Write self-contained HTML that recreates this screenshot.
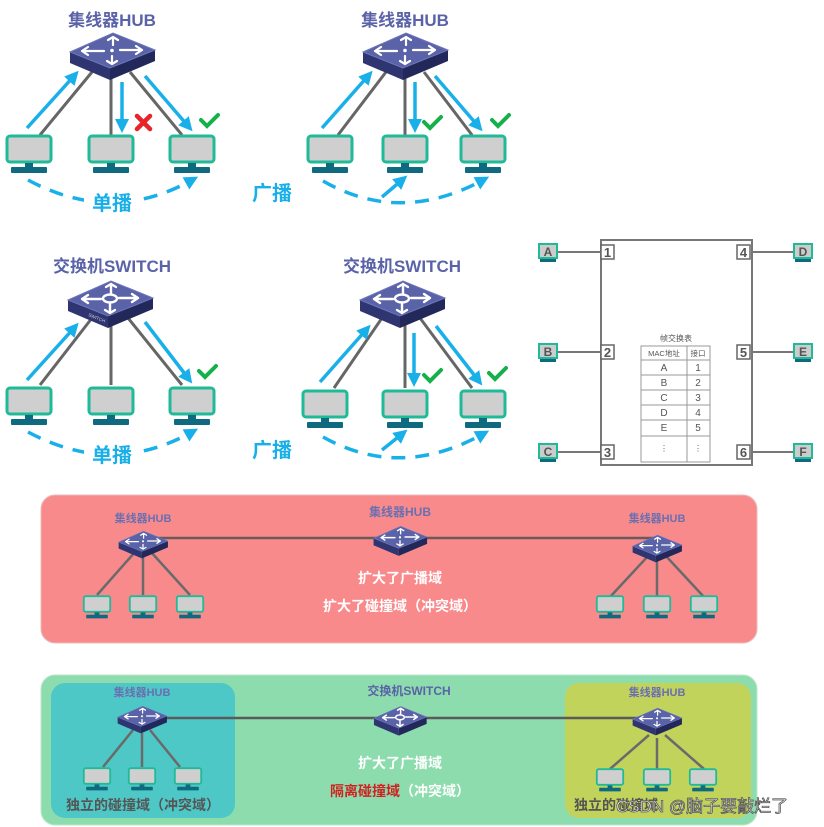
<!DOCTYPE html>
<html><head><meta charset="utf-8"><style>
html,body{margin:0;padding:0;background:#fff;}
svg{display:block;}
text{font-family:"Liberation Sans","Noto Sans CJK SC",sans-serif;}
</style></head><body>
<svg width="824" height="827" viewBox="0 0 824 827" xmlns="http://www.w3.org/2000/svg">
<defs>
<g id="dev">
  <path d="M-42,2 L-42,13 L-2,30 L-2,18 Z" fill="#2f3570"/>
  <path d="M-2,18 L43,0 L43,11 L-2,30 Z" fill="#23285a"/>
  <path d="M-42,2 L1,-17 L43,0 L-2,18 Z" fill="#5a62a8" stroke="#6e77bb" stroke-width="1"/>
</g>
<g id="hubicon" stroke="#fff" stroke-width="2.2" fill="none" stroke-linecap="round">
  <path d="M-30,1 L-8,1 M-30,1 l6,-4 M-30,1 l6,4"/>
  <path d="M30,0 L8,0 M30,0 l-6,-4 M30,0 l-6,4"/>
  <path d="M1,-13 L1,-5 M1,-13 l-5,3 M1,-13 l5,3"/>
  <path d="M0,14 L0,6 M0,14 l-5,-3 M0,14 l5,-3"/>
  <circle cx="0" cy="0.5" r="1.8" fill="#fff" stroke="none"/>
</g>
<g id="swicon" stroke="#fff" stroke-width="2.4" fill="none" stroke-linecap="round">
  <ellipse cx="0" cy="0.5" rx="7" ry="4"/>
  <path d="M-28,1 L-9,1 M-28,1 l6,-4 M-28,1 l6,4"/>
  <path d="M28,0 L9,0 M28,0 l-6,-4 M28,0 l-6,4"/>
  <path d="M1,-14 L1,-5 M1,-14 l-5,3 M1,-14 l5,3"/>
  <path d="M0,15 L0,6 M0,15 l-5,-3 M0,15 l5,-3"/>
</g>
<g id="hub"><use href="#dev"/><use href="#hubicon"/></g>
<g id="sw"><use href="#dev"/><use href="#swicon"/></g>
<g id="mon">
  <rect x="-22" y="-13" width="44" height="26" rx="3" fill="#cfcfcf" stroke="#1fba98" stroke-width="3"/>
  <rect x="-4" y="14" width="8" height="5" fill="#0f6a80"/>
  <rect x="-18" y="18" width="36" height="6" rx="1" fill="#0f6a80"/>
</g>
<marker id="ah" markerWidth="4" markerHeight="4" refX="2" refY="2" orient="auto" markerUnits="strokeWidth">
  <path d="M0,0 L4,2 L0,4 Z" fill="#19b0ea"/>
</marker>
<g id="chk"><path d="M-8,0 L-2,6 L9,-5" stroke="#15b04a" stroke-width="4" fill="none" stroke-linecap="round"/></g>
</defs>

<!-- ===== Top-left: HUB unicast ===== -->
<text x="112" y="26" font-size="17" font-weight="bold" fill="#5a62a8" text-anchor="middle">集线器HUB</text>
<g stroke="#666" stroke-width="3">
  <line x1="92" y1="72" x2="40" y2="135"/><line x1="111" y1="78" x2="111" y2="135"/><line x1="130" y1="72" x2="182" y2="135"/>
</g>
<use href="#hub" x="112" y="50"/>
<g stroke="#19b0ea" stroke-width="3.5" marker-end="url(#ah)" fill="none">
  <line x1="27" y1="128" x2="74" y2="76"/>
  <line x1="122" y1="82" x2="122" y2="126"/>
  <line x1="145" y1="76" x2="188" y2="126"/>
</g>
<path d="M137,116 L150,129 M150,116 L137,129" stroke="#e8232a" stroke-width="4.5" stroke-linecap="round"/>
<use href="#chk" x="209" y="120"/>
<use href="#mon" x="29" y="149"/><use href="#mon" x="111" y="149"/><use href="#mon" x="192" y="149"/>
<path d="M28,180 Q112,225 192,180" stroke="#19b0ea" stroke-width="3.5" fill="none" stroke-dasharray="14,10" marker-end="url(#ah)"/>
<rect x="84" y="190" width="58" height="24" fill="#fff"/>
<text x="112" y="210" font-size="20" font-weight="bold" fill="#19b0ea" text-anchor="middle">单播</text>

<!-- ===== Top-right: HUB broadcast ===== -->
<text x="405" y="26" font-size="17" font-weight="bold" fill="#5a62a8" text-anchor="middle">集线器HUB</text>
<g stroke="#666" stroke-width="3">
  <line x1="386" y1="72" x2="338" y2="135"/><line x1="405" y1="78" x2="405" y2="135"/><line x1="424" y1="72" x2="472" y2="135"/>
</g>
<use href="#hub" x="405" y="50"/>
<g stroke="#19b0ea" stroke-width="3.5" marker-end="url(#ah)" fill="none">
  <line x1="322" y1="128" x2="368" y2="76"/>
  <line x1="415" y1="82" x2="415" y2="126"/>
  <line x1="435" y1="76" x2="478" y2="126"/>
</g>
<use href="#chk" x="432" y="122"/><use href="#chk" x="500" y="120"/>
<use href="#mon" x="330" y="149"/><use href="#mon" x="405" y="149"/><use href="#mon" x="483" y="149"/>
<path d="M323,181 Q400,225 483,180" stroke="#19b0ea" stroke-width="3.5" fill="none" stroke-dasharray="14,10" marker-end="url(#ah)"/>
<path d="M382,197 L402,180" stroke="#19b0ea" stroke-width="3.5" fill="none" marker-end="url(#ah)"/>
<text x="272" y="200" font-size="20" font-weight="bold" fill="#19b0ea" text-anchor="middle">广播</text>

<!-- ===== Middle-left: SWITCH unicast ===== -->
<text x="112" y="272" font-size="17" font-weight="bold" fill="#5a62a8" text-anchor="middle">交换机SWITCH</text>
<g stroke="#666" stroke-width="3">
  <line x1="92" y1="318" x2="40" y2="385"/><line x1="111" y1="322" x2="111" y2="385"/><line x1="128" y1="318" x2="182" y2="385"/>
</g>
<use href="#sw" x="110" y="298"/>
<text x="88" y="316" font-size="4.5" fill="#ccc" transform="rotate(22 88 316)">SWITCH</text>
<g stroke="#19b0ea" stroke-width="3.5" marker-end="url(#ah)" fill="none">
  <line x1="27" y1="380" x2="74" y2="328"/>
  <line x1="145" y1="322" x2="188" y2="378"/>
</g>
<use href="#chk" x="207" y="371"/>
<use href="#mon" x="29" y="401"/><use href="#mon" x="111" y="401"/><use href="#mon" x="192" y="401"/>
<path d="M28,432 Q112,477 192,432" stroke="#19b0ea" stroke-width="3.5" fill="none" stroke-dasharray="14,10" marker-end="url(#ah)"/>
<rect x="84" y="442" width="58" height="24" fill="#fff"/>
<text x="112" y="462" font-size="20" font-weight="bold" fill="#19b0ea" text-anchor="middle">单播</text>

<!-- ===== Middle-right: SWITCH broadcast ===== -->
<text x="402" y="272" font-size="17" font-weight="bold" fill="#5a62a8" text-anchor="middle">交换机SWITCH</text>
<g stroke="#666" stroke-width="3">
  <line x1="382" y1="318" x2="334" y2="388"/><line x1="405" y1="322" x2="405" y2="388"/><line x1="420" y1="318" x2="472" y2="388"/>
</g>
<use href="#sw" x="402" y="298"/>
<g stroke="#19b0ea" stroke-width="3.5" marker-end="url(#ah)" fill="none">
  <line x1="320" y1="382" x2="366" y2="330"/>
  <line x1="414" y1="333" x2="414" y2="380"/>
  <line x1="436" y1="326" x2="478" y2="380"/>
</g>
<use href="#chk" x="432" y="375"/><use href="#chk" x="497" y="373"/>
<use href="#mon" x="325" y="404"/><use href="#mon" x="405" y="404"/><use href="#mon" x="483" y="404"/>
<path d="M323,437 Q400,480 483,434" stroke="#19b0ea" stroke-width="3.5" fill="none" stroke-dasharray="14,10" marker-end="url(#ah)"/>
<path d="M382,450 L402,434" stroke="#19b0ea" stroke-width="3.5" fill="none" marker-end="url(#ah)"/>
<text x="272" y="457" font-size="20" font-weight="bold" fill="#19b0ea" text-anchor="middle">广播</text>

<!-- ===== Right: MAC table ===== -->
<g stroke="#777" stroke-width="2" fill="none">
  <rect x="601" y="240" width="151" height="225"/>
  <line x1="558" y1="252" x2="602" y2="252"/><line x1="558" y1="352" x2="602" y2="352"/><line x1="558" y1="452" x2="602" y2="452"/>
  <line x1="751" y1="252" x2="794" y2="252"/><line x1="751" y1="352" x2="794" y2="352"/><line x1="751" y1="452" x2="794" y2="452"/>
</g>
<g font-size="13" font-weight="bold" fill="#555" text-anchor="middle">
  <rect x="601" y="245" width="13" height="14" fill="#fff" stroke="#666" stroke-width="1.5"/><text x="607.5" y="257">1</text>
  <rect x="601" y="345" width="13" height="14" fill="#fff" stroke="#666" stroke-width="1.5"/><text x="607.5" y="357">2</text>
  <rect x="601" y="445" width="13" height="14" fill="#fff" stroke="#666" stroke-width="1.5"/><text x="607.5" y="457">3</text>
  <rect x="737" y="245" width="13" height="14" fill="#fff" stroke="#666" stroke-width="1.5"/><text x="743.5" y="257">4</text>
  <rect x="737" y="345" width="13" height="14" fill="#fff" stroke="#666" stroke-width="1.5"/><text x="743.5" y="357">5</text>
  <rect x="737" y="445" width="13" height="14" fill="#fff" stroke="#666" stroke-width="1.5"/><text x="743.5" y="457">6</text>
</g>
<g font-size="12" font-weight="bold" fill="#555" text-anchor="middle">
  <g transform="translate(548,251)"><rect x="-9" y="-7" width="18" height="14" fill="#ccc" stroke="#1fba98" stroke-width="2"/><rect x="-8" y="8" width="16" height="3" fill="#0f6a80"/><text y="5">A</text></g>
  <g transform="translate(548,351)"><rect x="-9" y="-7" width="18" height="14" fill="#ccc" stroke="#1fba98" stroke-width="2"/><rect x="-8" y="8" width="16" height="3" fill="#0f6a80"/><text y="5">B</text></g>
  <g transform="translate(548,451)"><rect x="-9" y="-7" width="18" height="14" fill="#ccc" stroke="#1fba98" stroke-width="2"/><rect x="-8" y="8" width="16" height="3" fill="#0f6a80"/><text y="5">C</text></g>
  <g transform="translate(803,251)"><rect x="-9" y="-7" width="18" height="14" fill="#ccc" stroke="#1fba98" stroke-width="2"/><rect x="-8" y="8" width="16" height="3" fill="#0f6a80"/><text y="5">D</text></g>
  <g transform="translate(803,351)"><rect x="-9" y="-7" width="18" height="14" fill="#ccc" stroke="#1fba98" stroke-width="2"/><rect x="-8" y="8" width="16" height="3" fill="#0f6a80"/><text y="5">E</text></g>
  <g transform="translate(803,451)"><rect x="-9" y="-7" width="18" height="14" fill="#ccc" stroke="#1fba98" stroke-width="2"/><rect x="-8" y="8" width="16" height="3" fill="#0f6a80"/><text y="5">F</text></g>
</g>
<text x="676" y="341" font-size="8" fill="#555" text-anchor="middle">帧交换表</text>
<g stroke="#999" stroke-width="1" fill="none">
  <rect x="641" y="346" width="69" height="116"/>
  <line x1="687" y1="346" x2="687" y2="462"/>
  <line x1="641" y1="360" x2="710" y2="360"/><line x1="641" y1="375" x2="710" y2="375"/><line x1="641" y1="390" x2="710" y2="390"/>
  <line x1="641" y1="405" x2="710" y2="405"/><line x1="641" y1="420" x2="710" y2="420"/><line x1="641" y1="436" x2="710" y2="436"/>
</g>
<g font-size="10" fill="#555" text-anchor="middle">
  <text x="664" y="356" font-size="7.5">MAC地址</text><text x="698" y="356" font-size="7.5">接口</text>
  <text x="664" y="371">A</text><text x="698" y="371">1</text>
  <text x="664" y="386">B</text><text x="698" y="386">2</text>
  <text x="664" y="401">C</text><text x="698" y="401">3</text>
  <text x="664" y="416">D</text><text x="698" y="416">4</text>
  <text x="664" y="431">E</text><text x="698" y="431">5</text>
  <text x="664" y="451" font-size="8">⋮</text><text x="698" y="451" font-size="8">⋮</text>
</g>

<!-- ===== Red box ===== -->
<rect x="41" y="495" width="716" height="148" rx="14" fill="#f98a8c" stroke="#e9bcbc" stroke-width="1"/>
<line x1="143" y1="538" x2="657" y2="538" stroke="#6a5a5a" stroke-width="2.5"/>
<g stroke="#6a6a6a" stroke-width="2.5">
  <line x1="135" y1="552" x2="97" y2="595"/><line x1="143" y1="555" x2="143" y2="595"/><line x1="151" y1="552" x2="190" y2="595"/>
  <line x1="649" y1="555" x2="610" y2="597"/><line x1="657" y1="558" x2="657" y2="597"/><line x1="665" y1="555" x2="704" y2="597"/>
</g>
<text x="143" y="522" font-size="11" font-weight="bold" fill="#6a6fb0" text-anchor="middle">集线器HUB</text>
<text x="400" y="516" font-size="12" font-weight="bold" fill="#6a6fb0" text-anchor="middle">集线器HUB</text>
<text x="657" y="522" font-size="11" font-weight="bold" fill="#6a6fb0" text-anchor="middle">集线器HUB</text>
<use href="#hub" transform="translate(143,541) scale(0.58)"/>
<use href="#hub" transform="translate(400,537) scale(0.63)"/>
<use href="#hub" transform="translate(657,545) scale(0.58)"/>
<g transform="translate(97,604) scale(0.6)"><use href="#mon"/></g>
<g transform="translate(143,604) scale(0.6)"><use href="#mon"/></g>
<g transform="translate(190,604) scale(0.6)"><use href="#mon"/></g>
<g transform="translate(610,604) scale(0.6)"><use href="#mon"/></g>
<g transform="translate(657,604) scale(0.6)"><use href="#mon"/></g>
<g transform="translate(704,604) scale(0.6)"><use href="#mon"/></g>
<text x="400" y="583" font-size="14" font-weight="bold" fill="#fff" text-anchor="middle">扩大了广播域</text>
<text x="400" y="611" font-size="14" font-weight="bold" fill="#fff" text-anchor="middle">扩大了碰撞域（冲突域）</text>

<!-- ===== Green box ===== -->
<rect x="41" y="675" width="716" height="150" rx="14" fill="#8ddcae" stroke="#bfe6cc" stroke-width="1"/>
<rect x="51" y="683" width="184" height="135" rx="14" fill="#4ec8c6"/>
<rect x="565" y="683" width="186" height="135" rx="14" fill="#c2d35c"/>
<line x1="140" y1="718" x2="657" y2="718" stroke="#5a5a5a" stroke-width="2.5"/>
<g stroke="#6a6a6a" stroke-width="2.5">
  <line x1="133" y1="730" x2="103" y2="767"/><line x1="142" y1="733" x2="142" y2="767"/><line x1="150" y1="730" x2="180" y2="767"/>
  <line x1="649" y1="735" x2="610" y2="769"/><line x1="657" y1="738" x2="657" y2="769"/><line x1="665" y1="735" x2="704" y2="769"/>
</g>
<text x="142" y="696" font-size="11" font-weight="bold" fill="#6a6fb0" text-anchor="middle">集线器HUB</text>
<text x="409" y="695" font-size="12" font-weight="bold" fill="#5a62a8" text-anchor="middle">交换机SWITCH</text>
<text x="657" y="696" font-size="11" font-weight="bold" fill="#6a6fb0" text-anchor="middle">集线器HUB</text>
<use href="#hub" transform="translate(142,716) scale(0.58)"/>
<use href="#sw" transform="translate(400,717) scale(0.62)"/>
<use href="#hub" transform="translate(657,718) scale(0.58)"/>
<g transform="translate(97,776) scale(0.6)"><use href="#mon"/></g>
<g transform="translate(142,776) scale(0.6)"><use href="#mon"/></g>
<g transform="translate(188,776) scale(0.6)"><use href="#mon"/></g>
<g transform="translate(610,777) scale(0.6)"><use href="#mon"/></g>
<g transform="translate(657,777) scale(0.6)"><use href="#mon"/></g>
<g transform="translate(703,777) scale(0.6)"><use href="#mon"/></g>
<text x="400" y="768" font-size="14" font-weight="bold" fill="#fff" text-anchor="middle">扩大了广播域</text>
<text x="400" y="796" font-size="14" font-weight="bold" text-anchor="middle"><tspan fill="#d0201f">隔离碰撞域</tspan><tspan fill="#fff">（冲突域）</tspan></text>
<text x="143" y="810" font-size="14" font-weight="bold" fill="#555" text-anchor="middle">独立的碰撞域（冲突域）</text>
<text x="574" y="810" font-size="14" font-weight="bold" fill="#555">独立的碰撞域</text>
<text x="616" y="812" font-size="17" fill="#fff" stroke="#555" stroke-width="0.8">CSDN @脑子要敲烂了</text>
</svg>
</body></html>
